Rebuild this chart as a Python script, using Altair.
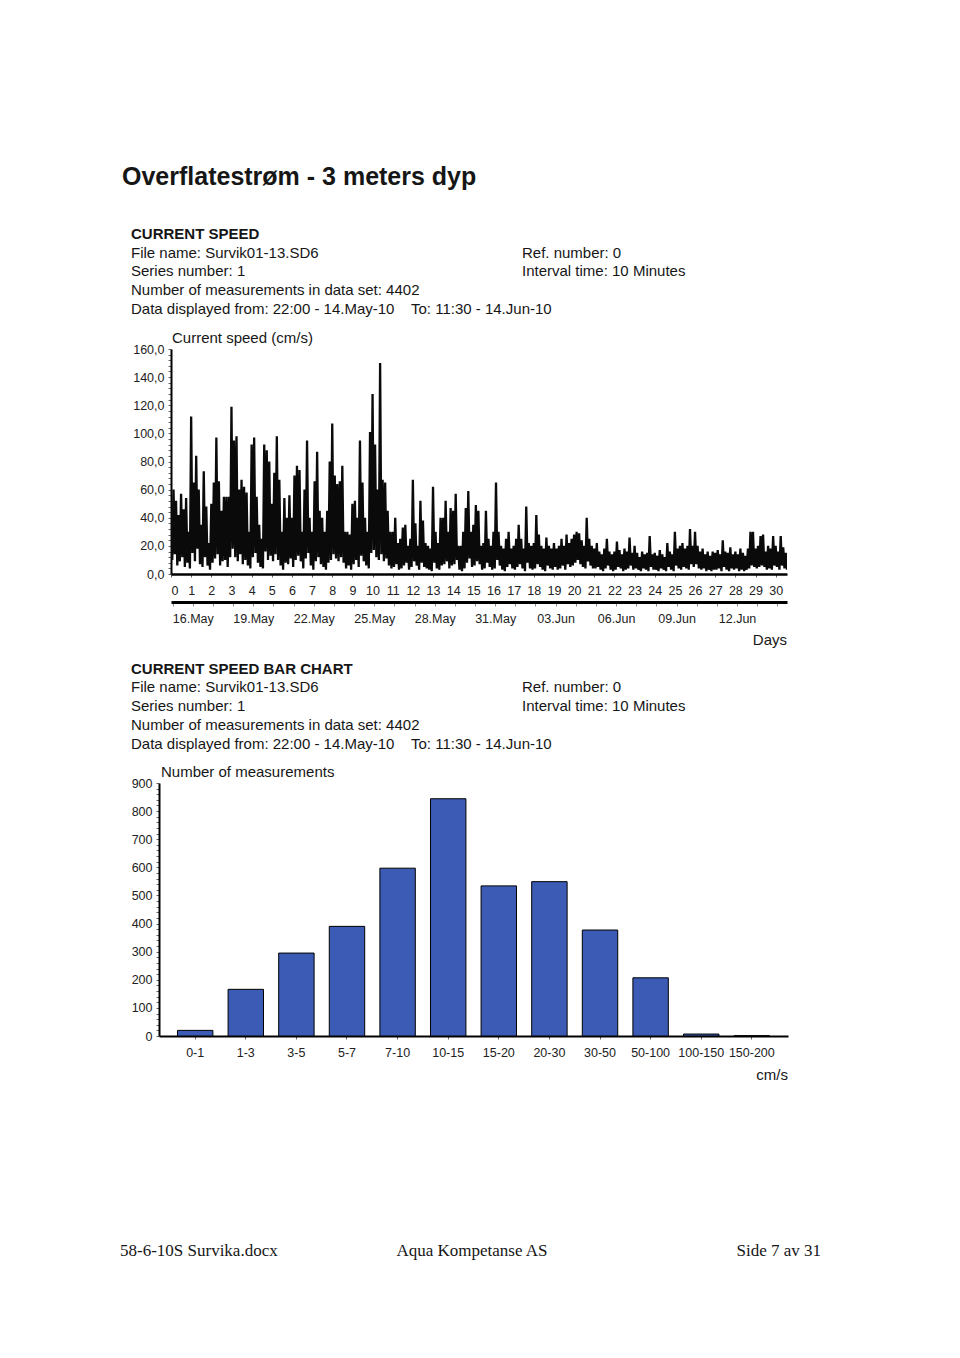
import altair as alt
import pandas as pd

# ---------------- data ----------------
# Current speed (cm/s): upper value of every 3-hour slot (starting 14.May 22:00, day 0)
speed_high = [
    48, 60, 52, 42, 57, 46, 54, 30,      # day 0
    112, 65, 84, 60, 35, 73, 48, 22,     # day 1
    50, 65, 97, 66, 45, 55, 55, 55,      # day 2
    119, 95, 98, 60, 67, 62, 58, 30,     # day 3
    92, 97, 55, 35, 25, 92, 88, 80,      # day 4
    50, 72, 98, 67, 30, 54, 40, 56,      # day 5
    40, 70, 77, 74, 30, 60, 95, 40,      # day 6
    30, 66, 87, 45, 40, 30, 45, 80,      # day 7
    107, 70, 64, 66, 77, 30, 30, 28,     # day 8
    50, 52, 40, 95, 65, 40, 30, 101,     # day 9
    128, 92, 60, 150, 67, 65, 45, 30,    # day 10
    30, 40, 22, 25, 33, 35, 20, 25,      # day 11
    67, 36, 20, 52, 38, 22, 20, 18,      # day 12
    62, 30, 22, 40, 40, 52, 30, 47,      # day 13
    45, 57, 20, 20, 30, 47, 59, 30,      # day 14
    35, 49, 45, 20, 22, 45, 25, 20,      # day 15
    30, 65, 30, 20, 18, 25, 30, 18,      # day 16
    20, 25, 35, 25, 18, 48, 22, 20,      # day 17
    22, 42, 28, 20, 18, 26, 20, 18,      # day 18
    22, 18, 20, 25, 20, 28, 22, 25,      # day 19
    28, 30, 29, 24, 20, 40, 25, 20,      # day 20
    18, 22, 16, 14, 18, 25, 16, 14,      # day 21
    16, 23, 17, 14, 18, 16, 26, 15,      # day 22
    20, 15, 12, 16, 14, 15, 27, 14,      # day 23
    15, 13, 17, 14, 12, 22, 16, 14,      # day 24
    30, 18, 20, 22, 18, 20, 32, 20,      # day 25
    30, 20, 16, 18, 14, 16, 13, 16,      # day 26
    15, 17, 14, 24, 16, 15, 19, 14,      # day 27
    16, 14, 18, 15, 13, 18, 30, 30,      # day 28
    18, 20, 27, 28, 16, 20, 18, 27,      # day 29
    20, 16, 27, 19, 15,                  # day 30
]
# lower value of every 3-hour slot (read 1.5 h after the upper value)
speed_low = [
    10, 14, 6, 9, 12, 5, 8, 4,
    15, 9, 18, 7, 5, 12, 6, 3,
    8, 11, 14, 6, 9, 10, 5, 12,
    18, 12, 9, 14, 7, 10, 6, 4,
    12, 15, 8, 5, 4, 16, 10, 13,
    9, 14, 10, 6, 3, 8, 7, 11,
    5, 10, 13, 9, 4, 11, 15, 6,
    3, 9, 12, 7, 5, 3, 8, 10,
    14, 11, 9, 12, 8, 4, 6, 3,
    7, 10, 5, 13, 9, 6, 4, 15,
    17, 12, 10, 14, 9, 11, 6, 4,
    5, 7, 3, 4, 6, 8, 3, 5,
    9, 6, 3, 8, 5, 4, 3, 2,
    8, 4, 3, 6, 7, 9, 4, 6,
    7, 10, 3, 2, 4, 8, 11, 5,
    6, 9, 7, 3, 4, 8, 5, 3,
    4, 10, 6, 3, 2, 5, 7, 4,
    3, 5, 7, 4, 2, 8, 4, 3,
    4, 7, 5, 3, 2, 6, 4, 3,
    5, 3, 4, 6, 3, 7, 5, 6,
    8, 10, 7, 5, 4, 9, 6, 4,
    4, 5, 3, 2, 4, 6, 3, 2,
    3, 5, 4, 2, 3, 4, 6, 3,
    4, 3, 2, 4, 3, 2, 5, 3,
    3, 2, 4, 3, 2, 5, 3, 2,
    6, 4, 3, 5, 4, 3, 7, 5,
    7, 4, 3, 4, 2, 3, 2, 3,
    3, 4, 2, 5, 3, 2, 4, 3,
    4, 2, 3, 2, 3, 4, 6, 5,
    4, 5, 6, 5, 3, 4, 3, 6,
    5, 3, 6, 4, 3,
]
slot_days = 0.125
last_day = 30.5625

speed_ticks = list(range(0, 161, 4))
day_ticks = list(range(0, 31))
date_labels = ["16.May", "19.May", "22.May", "25.May", "28.May", "31.May",
               "03.Jun", "06.Jun", "09.Jun", "12.Jun"]

bar_classes = ["0-1", "1-3", "3-5", "5-7", "7-10", "10-15", "15-20",
               "20-30", "30-50", "50-100", "100-150", "150-200"]
bar_counts = [20, 166, 295, 390, 597, 844, 534, 549, 377, 207, 7, 1]
count_ticks = list(range(0, 901, 20))

# ---------------- tables ----------------
days, speeds = [], []
for i, (h, l) in enumerate(zip(speed_high, speed_low)):
    days += [i * slot_days, i * slot_days + slot_days / 2]
    speeds += [h, l]
ts = pd.DataFrame({"day": days, "speed": speeds})
dates = pd.DataFrame({"date": ["2010-05-14T22:00:00", "2010-06-14T11:30:00"]})
bars = pd.DataFrame({"klasse": bar_classes, "antall": bar_counts})
one = pd.DataFrame({"k": [0]})

FONT = "Liberation Sans"
INK = "#161616"


def txt(s, x, y, size=15, weight="normal", align="left", font=FONT):
    return alt.Chart(one).mark_text(
        text=s, align=align, baseline="middle", fontSize=size,
        fontWeight=weight, font=font, color=INK
    ).encode(x=alt.value(x), y=alt.value(y))


W1, H1 = 616, 225
comma = "replace(format(datum.value, '.1f'), '.', ',')"

line = alt.Chart(ts).mark_line(color="#0a0a0a", strokeWidth=2.3, strokeJoin="bevel",
                               clip=True).encode(
    x=alt.X("day:Q", scale=alt.Scale(domain=[0, last_day], nice=False, zero=False),
            axis=alt.Axis(values=day_ticks, format="d", title=None, orient="bottom",
                          domainWidth=2.5, domainColor="black", tickSize=3,
                          tickColor="#666", labelPadding=7)),
    y=alt.Y("speed:Q", scale=alt.Scale(domain=[0, 160], nice=False),
            axis=alt.Axis(values=speed_ticks, title=None, domainWidth=2,
                          domainColor="black", tickSize=3, tickColor="#666",
                          labelPadding=4,
                          labelExpr=f"datum.value % 20 == 0 ? {comma} : ''")),
)

midnights = [alt.DateTime(year=2010, month=5 if d <= 31 else 6,
                          date=d if d <= 31 else d - 31)
             for d in range(15, 46)]
lab_list = "[" + ",".join(f"'{s}'" for s in date_labels) + "]"
date_axis = alt.Chart(dates).mark_point(opacity=0).encode(
    x=alt.X("date:T",
            scale=alt.Scale(domain=[alt.DateTime(year=2010, month=5, date=14, hours=22),
                                    alt.DateTime(year=2010, month=6, date=14, hours=11,
                                                 minutes=30)]),
            axis=alt.Axis(orient="bottom", offset=28, values=midnights, title=None,
                          domainWidth=3, domainColor="black", tickSize=4,
                          tickColor="#888", labelPadding=6,
                          labelExpr=f"indexof({lab_list}, timeFormat(datum.value, '%d.%b')) >= 0 ? timeFormat(datum.value, '%d.%b') : ''")),
)

panel1 = alt.layer(
    line, date_axis,
    txt("Overflatestrøm - 3 meters dyp", -49, -172, size=25, weight="bold"),
    txt("CURRENT SPEED", -40, -115, weight="bold"),
    txt("File name: Survik01-13.SD6", -40, -96),
    txt("Series number: 1", -40, -78),
    txt("Number of measurements in data set: 4402", -40, -59),
    txt("Data displayed from: 22:00 - 14.May-10", -40, -40),
    txt("To: 11:30 - 14.Jun-10", 240, -40),
    txt("Ref. number: 0", 351, -96),
    txt("Interval time: 10 Minutes", 351, -78),
    txt("Current speed (cm/s)", 1, -11),
    txt("Days", W1, 291, align="right"),
).resolve_scale(x="independent").properties(width=W1, height=H1)

W2, H2 = 617, 253
barchart = alt.Chart(bars).mark_bar(color="#3B5BB5", stroke="black", strokeWidth=1).encode(
    x=alt.X("klasse:N", sort=bar_classes,
            scale=alt.Scale(range=[-12, W2], paddingInner=0.3, paddingOuter=0.365),
            axis=alt.Axis(title=None, labelAngle=0, domainWidth=2, domainColor="black",
                          tickSize=3, tickColor="#666", labelPadding=7)),
    y=alt.Y("antall:Q", scale=alt.Scale(domain=[0, 900], nice=False),
            axis=alt.Axis(values=count_ticks, title=None, offset=12, domainWidth=2,
                          domainColor="black", tickSize=3, tickColor="#666",
                          labelPadding=4,
                          labelExpr="datum.value % 100 == 0 ? datum.value : ''")),
)

panel2 = alt.layer(
    barchart,
    txt("CURRENT SPEED BAR CHART", -40, -114, weight="bold"),
    txt("File name: Survik01-13.SD6", -40, -96),
    txt("Series number: 1", -40, -77),
    txt("Number of measurements in data set: 4402", -40, -58),
    txt("Data displayed from: 22:00 - 14.May-10", -40, -39),
    txt("To: 11:30 - 14.Jun-10", 240, -39),
    txt("Ref. number: 0", 351, -96),
    txt("Interval time: 10 Minutes", 351, -77),
    txt("Number of measurements", -10, -11),
    txt("cm/s", W2, 292, align="right"),
    txt("58-6-10S Survika.docx", -51, 468, size=17, font="Liberation Serif"),
    txt("Aqua Kompetanse AS", 301, 468, size=17, align="center", font="Liberation Serif"),
    txt("Side 7 av 31", 650, 468, size=17, align="right", font="Liberation Serif"),
).properties(width=W2, height=H2)

chart = alt.vconcat(panel1, panel2, spacing=14).properties(
    padding={"left": 112, "top": 157, "right": 10, "bottom": 20},
    background="white",
).configure_view(stroke=None).configure_axis(
    grid=False, labelFont=FONT, labelFontSize=12.5, labelColor="#222"
)

chart.save("out.html", embed_options={"renderer": "svg", "actions": False})
